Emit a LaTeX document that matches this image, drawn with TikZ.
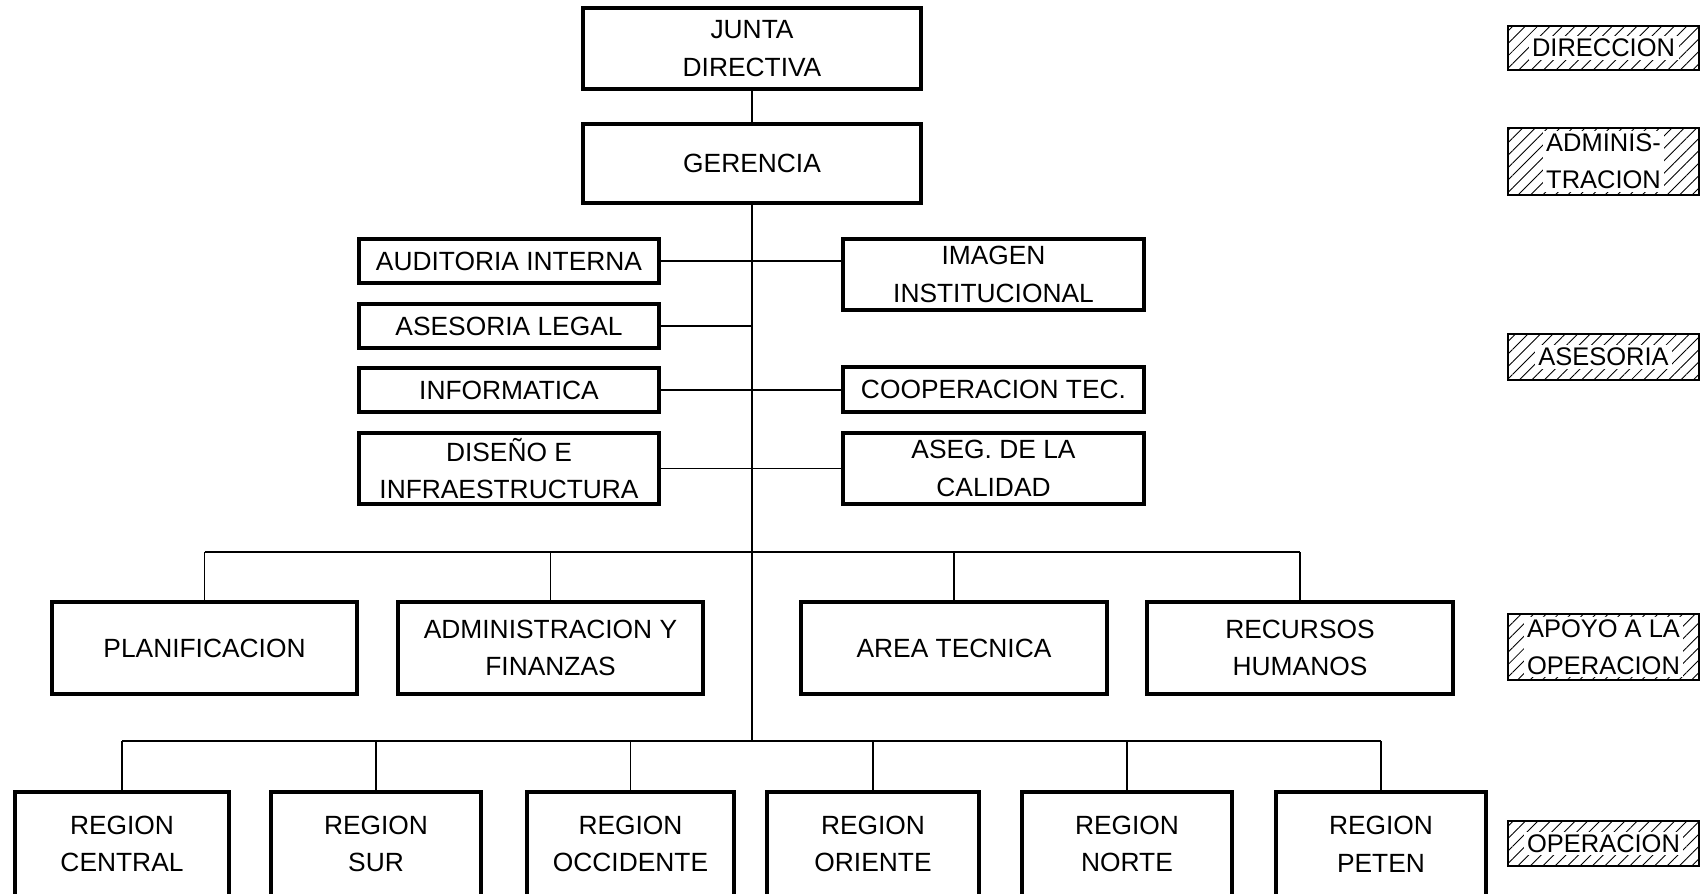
\documentclass[tikz,border=0pt]{standalone}
\usepackage{fontspec}
\setmainfont{Liberation Sans}
\usetikzlibrary{patterns.meta}

\begin{document}
\begin{tikzpicture}[x=0.02cm,y=-0.02cm,
        box/.style={draw,line width=1.8pt,align=center,inner sep=0pt,font=\fontsize{15}{21.5}\selectfont},
        tag/.style={draw,line width=0.9pt,pattern={Lines[angle=45,distance=5pt,line width=0.5pt]}},
        tagtext/.style={fill=white,align=center,inner xsep=2pt,inner ysep=1.5pt,font=\fontsize{14.5}{21}\selectfont},
        link/.style={line width=0.8pt}]
        \clip (0,0) rectangle (1707,893);
        \foreach \x/\y/\w/\h/\n/\l in {752/48.5/338/81/junta/{JUNTA\\DIRECTIVA},752/163.5/338/79/gerencia/{GERENCIA},
            509/261/300/44/auditoria/{AUDITORIA INTERNA},509/326/300/44/legal/{ASESORIA LEGAL},
            509/390/300/44/informatica/{INFORMATICA},509/468.5/300/71/diseno/{DISEÑO E\\INFRAESTRUCTURA},
            993.5/274.5/301/71/imagen/{IMAGEN\\INSTITUCIONAL},993.5/389.5/301/45/cooperacion/{COOPERACION TEC.},
            993.5/468.5/301/71/aseg/{ASEG. DE LA\\CALIDAD},
            204.5/648/305/92/planif/{PLANIFICACION},550.5/648/305/92/admin/{ADMINISTRACION Y\\FINANZAS},
            954/648/306/92/area/{AREA TECNICA},1300/648/306/92/rh/{RECURSOS\\HUMANOS},
            122/844/214/104/central/{REGION\\CENTRAL},376/844/210/104/sur/{REGION\\SUR},
            630.5/844/207/104/occidente/{REGION\\OCCIDENTE},873/844/212/104/oriente/{REGION\\ORIENTE},
            1127/844/210/104/norte/{REGION\\NORTE},1381/844/210/104/peten/{REGION\\PETEN}}{
            \node[box,minimum width=\w*0.02cm,minimum height=\h*0.02cm] (\n) at (\x,\y) {\l};
        }
        \foreach \y/\h/\n/\l in {48/44/direccion/{DIRECCION},161.5/67/administracion/{ADMINIS-\\TRACION},
            357/46/asesoria/{ASESORIA},647/66/apoyo/{APOYO A LA\\OPERACION},843.5/45/operacion/{OPERACION}}{
            \node[tag,minimum width=191*0.02cm,minimum height=\h*0.02cm] (\n) at (1603.5,\y) {};
            \node[tagtext] (\n t) at (\n) {\l};
        }
        \coordinate (bus1) at (752,552);
        \coordinate (bus2) at (752,741);
        \draw[link] (junta) -- (gerencia);
        \draw[link] (gerencia) -- (bus2);
        \foreach \m/\n in {auditoria/imagen,informatica/cooperacion,diseno/aseg}{
            \draw[link] (\m.east) -- (\m.east -| \n.west);
        }
        \draw[link] (legal.east) -- (legal.east -| bus1);
        \draw[link] (planif.north |- bus1) -- (rh.north |- bus1);
        \foreach \n in {planif,admin,area,rh}{
            \draw[link] (\n.north |- bus1) -- (\n.north);
        }
        \draw[link] (central.north |- bus2) -- (peten.north |- bus2);
        \foreach \n in {central,sur,occidente,oriente,norte,peten}{
            \draw[link] (\n.north |- bus2) -- (\n.north);
        }
    \end{tikzpicture}
\end{document}
